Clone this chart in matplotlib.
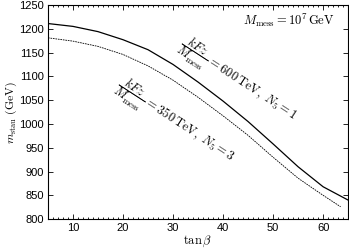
import matplotlib
matplotlib.use("Agg")
import matplotlib.pyplot as plt
from matplotlib.ticker import MultipleLocator

plt.rcParams["mathtext.fontset"] = "cm"
plt.rcParams["font.family"] = ["Liberation Sans", "DejaVu Sans"]

# values
tanb_1 = [5, 10, 15, 20, 25, 30, 35, 40, 45, 50, 55, 60, 65]
mstau_1 = [1211, 1205, 1194, 1177, 1156, 1125, 1088, 1048, 1005, 958, 910, 868, 840]

tanb_3 = [5, 10, 15, 20, 25, 30, 35, 40, 45, 50, 55, 60, 63.5]
mstau_3 = [1181, 1174, 1163, 1146, 1122, 1092, 1056, 1017, 976, 930, 886, 850, 826]

fig = plt.figure(figsize=(3.49, 2.49), dpi=100)
ax = fig.add_axes([0.1375, 0.12, 0.86, 0.86])

ax.plot(tanb_1, mstau_1, color="black", lw=0.9)
ax.plot(tanb_3, mstau_3, color="black", lw=0.6, ls=(0, (2, 1)))

ax.set_xlim(5, 65)
ax.set_ylim(800, 1250)
ax.xaxis.set_major_locator(MultipleLocator(10))
ax.xaxis.set_minor_locator(MultipleLocator(1))
ax.yaxis.set_major_locator(MultipleLocator(50))
ax.tick_params(which="both", direction="in", top=True, right=True, labelsize=8, width=0.6)
ax.tick_params(which="major", length=3.5, pad=3)
ax.tick_params(which="minor", length=1.5)
for s in ax.spines.values():
    s.set_linewidth(0.8)

ax.set_xlabel(r"$\tan\beta$", fontsize=9, labelpad=0)
ax.set_ylabel(r"$m_{\rm stau}\ ({\rm GeV})$", fontsize=8.5)
ax.yaxis.set_label_coords(-0.098, 0.5)

ax.text(0.955, 0.93, r"$M_{\rm mess} = 10^7\,{\rm GeV}$", transform=ax.transAxes,
        ha="right", va="center", fontsize=9)
ax.text(42.8, 1090, r"$\dfrac{kFz}{M_{\rm mess}} = 600\,{\rm TeV},\ N_5 = 1$",
        rotation=-33, rotation_mode="anchor", ha="center", va="center", fontsize=9)
ax.text(30.4, 1004, r"$\dfrac{kFz}{M_{\rm mess}} = 350\,{\rm TeV},\ N_5 = 3$",
        rotation=-33, rotation_mode="anchor", ha="center", va="center", fontsize=9)

fig.savefig("out.png", dpi=100)
